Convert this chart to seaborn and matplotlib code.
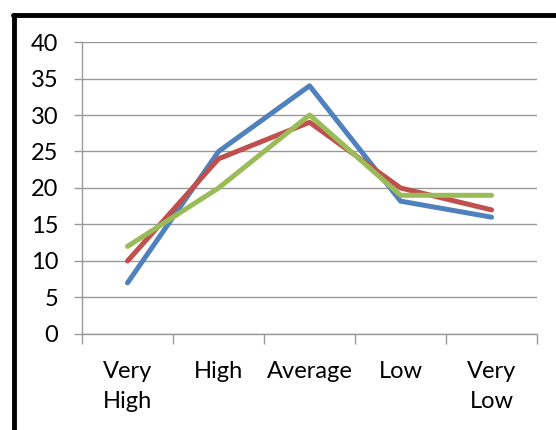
import pandas as pd
import matplotlib
matplotlib.use("Agg")
import matplotlib.pyplot as plt
from matplotlib.lines import Line2D
import seaborn as sns

categories = ["Very\nHigh", "High", "Average", "Low", "Very\nLow"]
series_a = [7, 25, 34, 18.2, 16]
series_b = [10, 24, 29, 20, 17]
series_c = [12, 20, 30, 19, 19]
series_names = ["Series 1", "Series 2", "Series 3"]
y_ticks = [0, 5, 10, 15, 20, 25, 30, 35, 40]

df = pd.DataFrame({
    "category": categories * 3,
    "value": series_a + series_b + series_c,
    "series": [s for s in series_names for _ in categories],
})

sns.set_style("white")
plt.rcParams["font.family"] = ["Lato", "DejaVu Sans"]

fig = plt.figure(figsize=(5.56, 4.30), dpi=100)
ax = fig.add_axes([0.1475, 0.2233, 0.8185, 0.679])

palette = ["#4F81BD", "#C0504D", "#9BBB59"]
sns.lineplot(data=df, x="category", y="value", hue="series", palette=palette,
             sort=False, linewidth=3.6, legend=False, ax=ax,
             solid_capstyle="round", zorder=3)

ax.set_ylim(0, 40)
ax.set_xlim(-0.5, 4.5)
ax.set_yticks(y_ticks)
ax.set_xticks(range(len(categories)))
ax.set_xticklabels(categories, linespacing=1.55)
ax.set_xticks([i - 0.5 for i in range(len(categories) + 1)], minor=True)
ax.grid(axis="y", color="#999999", linewidth=1.0)
ax.set_axisbelow(True)
ax.set_xlabel("")
ax.set_ylabel("")

for side in ["top", "right"]:
    ax.spines[side].set_visible(False)
for side in ["left", "bottom"]:
    ax.spines[side].set_color("#999999")
    ax.spines[side].set_linewidth(1.0)

ax.tick_params(axis="y", which="major", left=True, length=6, width=1,
               color="#999999", labelsize=17, pad=11, labelcolor="black")
ax.tick_params(axis="x", which="major", bottom=False, labelsize=17, pad=16,
               labelcolor="black")
ax.tick_params(axis="x", which="minor", bottom=True, length=7, width=1,
               color="#999999")

# black frame cropped at left/top
fig.add_artist(Line2D([0.026, 0.026], [0.0, 0.966], color="black",
                      linewidth=3.5, transform=fig.transFigure))
fig.add_artist(Line2D([0.024, 1.0], [0.966, 0.966], color="black",
                      linewidth=3.5, transform=fig.transFigure))

fig.savefig("out.png", dpi=100, facecolor="white")
